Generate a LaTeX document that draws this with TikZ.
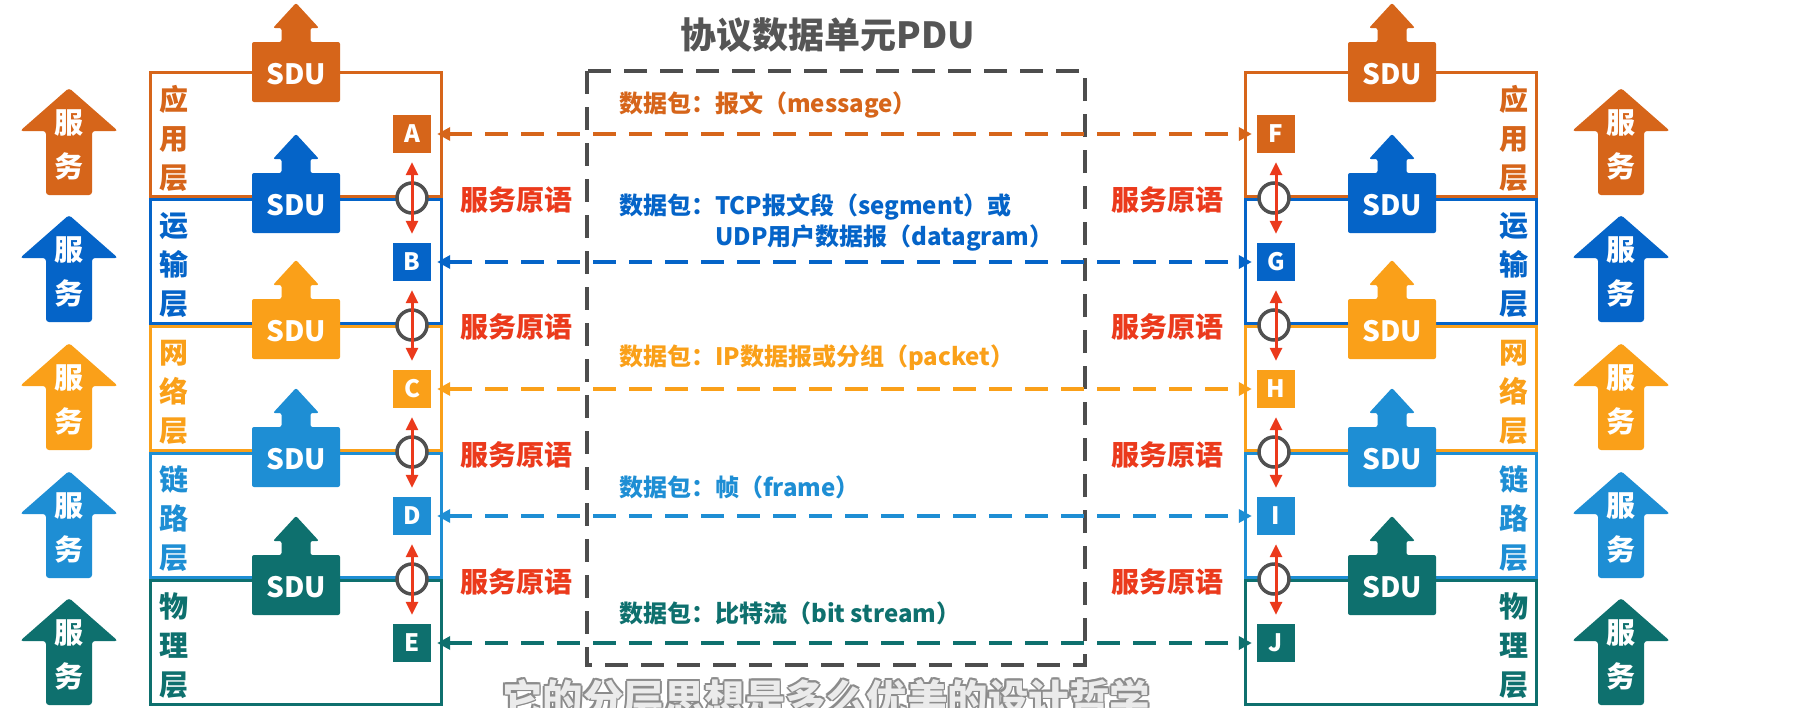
\documentclass[tikz,border=0pt]{standalone}
\usepackage{fontspec}
\setmainfont{Noto Sans CJK SC}
\usetikzlibrary{arrows.meta}
\definecolor{appc}{RGB}{214,101,26}
\definecolor{trac}{RGB}{5,100,200}
\definecolor{netc}{RGB}{250,160,25}
\definecolor{linc}{RGB}{30,142,212}
\definecolor{phyc}{RGB}{14,112,110}
\definecolor{redc}{RGB}{235,58,28}
\definecolor{titlec}{RGB}{85,85,85}
\definecolor{ringc}{RGB}{80,80,80}
\definecolor{boxc}{RGB}{77,77,77}
\definecolor{subo}{RGB}{140,140,140}
\definecolor{subi}{RGB}{235,235,235}
\tikzset{
  layer/.style={line width=3pt},
  laylab/.style={align=center, inner sep=0pt, font=\fontsize{29}{39}\selectfont\bfseries},
  sdutext/.style={text=white, inner sep=0pt, font=\fontsize{28}{30}\selectfont\bfseries},
  servtext/.style={text=white, align=center, inner sep=0pt, font=\fontsize{29}{44}\selectfont\bfseries},
  letbox/.style={minimum size=38pt, inner sep=0pt, text=white, font=\fontsize{24}{26}\selectfont\bfseries},
  ring/.style={circle, minimum size=30pt, inner sep=0pt, draw=ringc, line width=3.5pt, fill=white},
  redarr/.style={redc, line width=3pt, {Triangle[length=13pt,width=12pt]}-{Triangle[length=13pt,width=12pt]}, shorten <=9pt, shorten >=9pt},
  proto/.style={line width=4pt, dash pattern=on 23pt off 13pt, {Triangle[length=13pt,width=13pt]}-{Triangle[length=13pt,width=13pt]}, shorten <=6pt, shorten >=5pt},
  plab/.style={anchor=west, inner sep=0pt, align=left, font=\fontsize{24}{31}\selectfont\bfseries},
  prim/.style={text=redc, inner sep=0pt, font=\fontsize{28}{30}\selectfont\bfseries},
  subt/.style={anchor=base, inner sep=0pt, font=\fontsize{40.5}{42}\selectfont\bfseries},
}
\newcommand\mySDU[4]{%
  \fill[#4, rounded corners=2pt] (#2-44,#3-30) -- (#2-14.5,#3-30) -- (#2-14.5,#3-44) -- (#2-23,#3-44) -- (#2,#3-69) -- (#2+23,#3-44) -- (#2+14.5,#3-44) -- (#2+14.5,#3-30) -- (#2+44,#3-30) -- (#2+44,#3+30) -- (#2-44,#3+30) -- cycle;
  \node[sdutext] (#1) at (#2,#3+2) {SDU};
}
\newcommand\myServ[4]{%
  \fill[#4, rounded corners=3pt] (#2-23,#3) -- (#2-23,#3-64) -- (#2-49,#3-64) -- (#2,#3-107) -- (#2+49,#3-64) -- (#2+23,#3-64) -- (#2+23,#3) -- cycle;
  \node[servtext] (#1) at (#2,#3-50) {服\\务};
}
\begin{document}
\begin{tikzpicture}[x=1pt,y=-1pt]
\useasboundingbox[fill=white] (0,0) rectangle (1804,707);

% title
\node[text=titlec, inner sep=0pt, font=\fontsize{36}{38}\selectfont\bfseries] (title) at (828,35) {协议数据单元PDU};

% service arrows
\myServ{sL1}{69}{195}{appc}
\myServ{sL2}{69}{322}{trac}
\myServ{sL3}{69}{450}{netc}
\myServ{sL4}{69}{578}{linc}
\myServ{sL5}{69}{705}{phyc}
\myServ{sR1}{1621}{195}{appc}
\myServ{sR2}{1621}{322}{trac}
\myServ{sR3}{1621}{450}{netc}
\myServ{sR4}{1621}{578}{linc}
\myServ{sR5}{1621}{705}{phyc}

% layer rectangles
\foreach \xa/\xb in {150/441, 1245/1536}{
  \draw[layer, appc] (\xa,72.5) rectangle (\xb,196.5);
  \draw[layer, trac] (\xa,199.5) rectangle (\xb,323.5);
  \draw[layer, netc] (\xa,326.5) rectangle (\xb,450.5);
  \draw[layer, linc] (\xa,453.5) rectangle (\xb,577.5);
  \draw[layer, phyc] (\xa,580.5) rectangle (\xb,704.5);
}

% layer labels
\node[laylab, text=appc] (lLa) at (174,138) {应\\用\\层};
\node[laylab, text=trac] (lLb) at (174,265) {运\\输\\层};
\node[laylab, text=netc] (lLc) at (174,392) {网\\络\\层};
\node[laylab, text=linc] (lLd) at (174,519) {链\\路\\层};
\node[laylab, text=phyc] (lLe) at (174,646) {物\\理\\层};
\node[laylab, text=appc] (lRa) at (1514,138) {应\\用\\层};
\node[laylab, text=trac] (lRb) at (1514,265) {运\\输\\层};
\node[laylab, text=netc] (lRc) at (1514,392) {网\\络\\层};
\node[laylab, text=linc] (lRd) at (1514,519) {链\\路\\层};
\node[laylab, text=phyc] (lRe) at (1514,646) {物\\理\\层};

% SDUs
\mySDU{dL1}{296}{72}{appc}
\mySDU{dL2}{296}{203}{trac}
\mySDU{dL3}{296}{329}{netc}
\mySDU{dL4}{296}{457}{linc}
\mySDU{dL5}{296}{585}{phyc}
\mySDU{dR1}{1392}{72}{appc}
\mySDU{dR2}{1392}{203}{trac}
\mySDU{dR3}{1392}{329}{netc}
\mySDU{dR4}{1392}{457}{linc}
\mySDU{dR5}{1392}{585}{phyc}

% PDU dashed box
\draw[boxc, line width=4.5pt, dash pattern=on 23pt off 13pt] (587,71) rectangle (1085,665);

% letter boxes
\node[letbox, fill=appc] (A) at (412,134) {A};
\node[letbox, fill=trac] (B) at (412,262) {B};
\node[letbox, fill=netc] (C) at (412,389) {C};
\node[letbox, fill=linc] (D) at (412,516) {D};
\node[letbox, fill=phyc] (E) at (412,643) {E};
\node[letbox, fill=appc] (F) at (1276,134) {F};
\node[letbox, fill=trac] (G) at (1276,262) {G};
\node[letbox, fill=netc] (H) at (1276,389) {H};
\node[letbox, fill=linc] (I) at (1276,516) {I};
\node[letbox, fill=phyc] (J) at (1276,643) {J};

% rings
\node[ring] (rL1) at (412,198) {};
\node[ring] (rL2) at (412,325) {};
\node[ring] (rL3) at (412,452) {};
\node[ring] (rL4) at (412,579) {};
\node[ring] (rR1) at (1274,198) {};
\node[ring] (rR2) at (1274,325) {};
\node[ring] (rR3) at (1274,452) {};
\node[ring] (rR4) at (1274,579) {};

% red primitive arrows
\draw[redarr] (A) -- (B);
\draw[redarr] (B) -- (C);
\draw[redarr] (C) -- (D);
\draw[redarr] (D) -- (E);
\draw[redarr] (F) -- (G);
\draw[redarr] (G) -- (H);
\draw[redarr] (H) -- (I);
\draw[redarr] (I) -- (J);

% primitive labels
\foreach \y [count=\k] in {200,327,455,582}{
  \node[prim] (pL\k) at (516,\y) {服务原语};
  \node[prim] (pR\k) at (1167,\y) {服务原语};
}

% protocol arrows
\draw[proto, appc] (A) -- (F);
\draw[proto, trac] (B) -- (G);
\draw[proto, netc] (C) -- (H);
\draw[proto, linc] (D) -- (I);
\draw[proto, phyc] (E) -- (J);

% protocol labels
\node[plab, text=appc] (t1) at (619,105) {数据包：报文（message）};
\node[plab, text=trac] (t2) at (619,222.5) {数据包：TCP报文段（segment）或\\\hphantom{数据包：}UDP用户数据报（datagram）};
\node[plab, text=netc] (t3) at (619,358) {数据包：IP数据报或分组（packet）};
\node[plab, text=linc] (t4) at (619,487) {数据包：帧（frame）};
\node[plab, text=phyc] (t5) at (619,613) {数据包：比特流（bit stream）};

% subtitle (cut by the bottom edge)
\foreach \dx/\dy [count=\k] in {-1.6/0,1.6/0,0/-1.6,0/1.6,-1.2/-1.2,1.2/-1.2,-1.2/1.2,1.2/1.2}{
  \node[subt, text=subo] (so\k) at (826+\dx,714+\dy) {它的分层思想是多么优美的设计哲学};
}
\node[subt, text=subi] (sub) at (826,714) {它的分层思想是多么优美的设计哲学};
\end{tikzpicture}
\end{document}
